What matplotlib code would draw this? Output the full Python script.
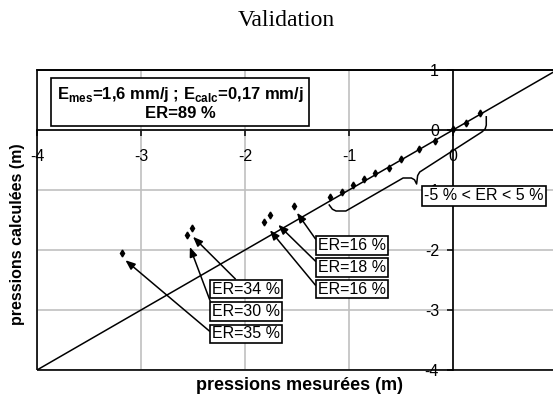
import matplotlib
matplotlib.use('Agg')
import matplotlib.pyplot as plt
from matplotlib.patches import Rectangle

plt.rcParams['font.family'] = 'Liberation Sans'
plt.rcParams['axes.unicode_minus'] = False
plt.rcParams['mathtext.fontset'] = 'custom'
plt.rcParams['mathtext.bf'] = 'Liberation Sans:bold'
plt.rcParams['mathtext.rm'] = 'Liberation Sans'

# measured vs calculated pressures (m)
measured = [0.26, 0.125, 0.0, -0.17, -0.33, -0.5, -0.62, -0.75, -0.86, -0.96, -1.07, -1.18,
            -1.53, -1.76, -1.82, -2.51, -2.56, -3.18]
calculated = [0.28, 0.12, 0.02, -0.18, -0.32, -0.48, -0.63, -0.72, -0.82, -0.92, -1.03, -1.12,
              -1.27, -1.42, -1.53, -1.63, -1.75, -2.05]
ticks = [-4, -3, -2, -1, 0, 1]
# the x label "1" falls outside the picture in the original
xtick_labels = ['-4', '-3', '-2', '-1', '0', '']
ytick_labels = ['-4', '-3', '-2', '-1', '0', '1']
lims = (-4, 1)

# labels pointing at the outliers: text, text position, arrow target, arrow start on box
er_labels = ['ER=34 %', 'ER=30 %', 'ER=35 %', 'ER=16 %', 'ER=18 %', 'ER=16 %']
er_text_x = [-2.317, -2.317, -2.317, -1.298, -1.298, -1.298]
er_text_y = [-2.65, -3.02, -3.40, -1.925, -2.29, -2.65]
er_target_x = [-2.50, -2.53, -3.15, -1.50, -1.68, -1.76]
er_target_y = [-1.78, -1.95, -2.17, -1.38, -1.58, -1.67]
er_relpos = [(0.38, 1.0), (0.0, 0.85), (0.0, 0.55), (0.0, 0.7), (0.0, 0.75), (0.0, 0.55)]

# curly brace around the points within +/- 5 %
brace_x = [-1.19, -1.16, -1.125, -1.03, -0.48, -0.40, -0.37, -0.35, -0.34, -0.32, 0.28, 0.31, 0.32, 0.32]
brace_y = [-1.25, -1.32, -1.35, -1.35, -0.80, -0.80, -0.83, -0.90, -0.76, -0.70, -0.03, 0.02, 0.08, 0.22]

fig = plt.figure(figsize=(5.53, 4.03), dpi=100)
ax = fig.add_axes([37 / 553, 33 / 403, 520 / 553, 300 / 403])
ax.set_xlim(*lims)
ax.set_ylim(*lims)
ax.set_xticks(ticks)
ax.set_yticks(ticks)
ax.set_xticklabels(xtick_labels)
ax.set_yticklabels(ytick_labels)
ax.grid(True, color='#c0c0c0', lw=1.2)
ax.set_axisbelow(True)

ax.spines['left'].set_position(('data', 0))
ax.spines['bottom'].set_position(('data', 0))
for s in ax.spines.values():
    s.set_linewidth(1.2)
ax.add_patch(Rectangle((0, 0), 1, 1, transform=ax.transAxes, fill=False,
                       lw=1.2, ec='black', clip_on=False, zorder=4))
ax.tick_params(direction='out', length=4, width=1.1, labelsize=11.5)
ax.tick_params(axis='x', pad=10)
ax.tick_params(axis='y', pad=6)

ax.plot(lims, lims, color='black', lw=1.1, zorder=3)
ax.plot(measured, calculated, 'kd', ms=3.5, zorder=4)
ax.plot(brace_x, brace_y, color='black', lw=1.1, zorder=3, solid_joinstyle='round')

for lab, tx, ty, px, py, rp in zip(er_labels, er_text_x, er_text_y,
                                   er_target_x, er_target_y, er_relpos):
    ax.annotate(lab, xy=(px, py), xytext=(tx, ty), ha='left', va='center', fontsize=11.5,
                bbox=dict(boxstyle='square,pad=0.12', fc='white', ec='black', lw=1.2),
                arrowprops=dict(arrowstyle='-|>,head_length=0.5,head_width=0.2', color='black',
                                lw=1.1, relpos=rp, shrinkA=0, shrinkB=0),
                zorder=6)

ax.text(-0.279, -1.1, '-5 % < ER < 5 %', ha='left', va='center', fontsize=11.5, zorder=6,
        bbox=dict(boxstyle='square,pad=0.15', fc='white', ec='black', lw=1.2))

ax.text(-2.625, 0.45, r'E$_{\mathbf{mes}}$=1,6 mm/j ; E$_{\mathbf{calc}}$=0,17 mm/j' + '\nER=89 %',
        ha='center', va='center', fontsize=12, fontweight='bold', linespacing=1.1, zorder=6,
        bbox=dict(boxstyle='square,pad=0.35', fc='white', ec='black', lw=1.2))

fig.text(286 / 553, 1 - 21 / 403, 'Validation', family='Liberation Serif', fontsize=17,
         ha='center', va='center')
fig.text(300 / 553, 1 - 385 / 403, 'pressions mesurées (m)', fontsize=13, fontweight='bold',
         ha='center', va='center')
fig.text(18 / 553, 1 - 234 / 403, 'pressions calculées (m)', fontsize=11.5, fontweight='bold',
         ha='center', va='center', rotation=90)

fig.savefig('out.png', dpi=100)
